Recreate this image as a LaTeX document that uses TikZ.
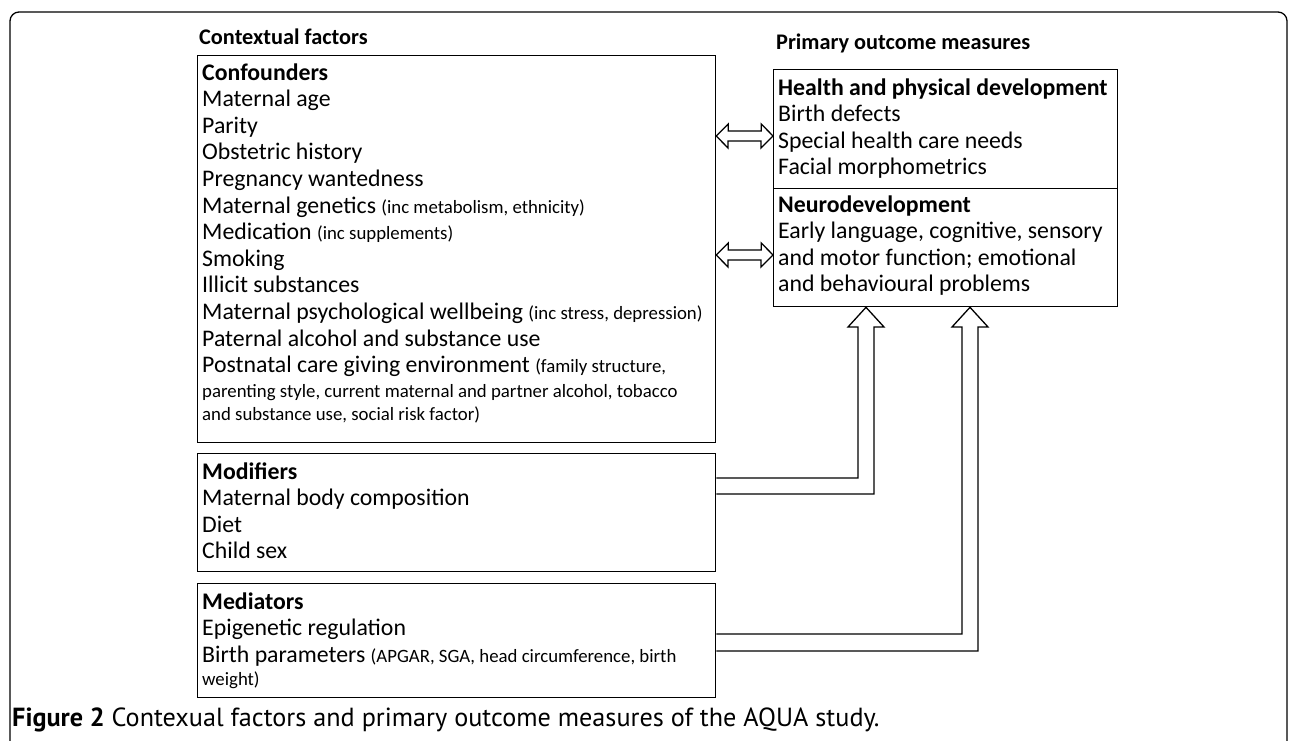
\documentclass[tikz,border=0pt]{standalone}
\usepackage{fontspec}
\setmainfont{Carlito}
\newfontfamily\capfont{PT Sans}
\newcommand{\sm}{\fontsize{18.8}{22}\selectfont}
\begin{document}
\begin{tikzpicture}[x=1pt,y=-1pt,
  box/.style={draw,line width=1.3pt,anchor=north west,inner sep=0pt},
  txt/.style={anchor=base west,inner sep=0pt,font=\fontsize{23.8}{26}\selectfont},
  stxt/.style={anchor=base west,inner sep=0pt,font=\sm},
  head/.style={anchor=base west,inner sep=0pt,font=\fontsize{22.3}{26}\selectfont\bfseries},
  hollow/.style={draw,line width=1.3pt,line join=miter},
  frame/.style={draw,line width=1.3pt,rounded corners=9pt}]
\useasboundingbox (0,0) rectangle (1290,740);
% outer frame
\draw[frame] (10,760) -- (10,12) -- (1287,12) -- (1287,760);
% headings
\node[head] (hctx) at (199,44) {Contextual factors};
\node[head] (hout) at (776,49) {Primary outcome measures};
% boxes
\node[box,minimum width=518pt,minimum height=387pt] (conf) at (197,55) {};
\node[box,minimum width=344pt,minimum height=119pt] (health) at (773,69) {};
\node[box,minimum width=344pt,minimum height=118pt] (neuro) at (773,188) {};
\node[box,minimum width=518pt,minimum height=118pt] (mod) at (197,453) {};
\node[box,minimum width=518pt,minimum height=114pt] (med) at (197,583) {};
% confounders text
\node[txt] (c0) at (202,80) {\textbf{Confounders}};
\node[txt] (c1) at (202,106.6) {Maternal age};
\node[txt] (c2) at (202,133.2) {Parity};
\node[txt] (c3) at (202,159.8) {Obstetric history};
\node[txt] (c4) at (202,186.4) {Pregnancy wantedness};
\node[txt] (c5) at (202,213) {Maternal genetics {\sm(inc metabolism, ethnicity)}};
\node[txt] (c6) at (202,239.6) {Medication {\sm(inc supplements)}};
\node[txt] (c7) at (202,266.2) {Smoking};
\node[txt] (c8) at (202,292.8) {Illicit substances};
\node[txt] (c9) at (202,319.4) {Maternal psychological wellbeing {\sm(inc stress, depression)}};
\node[txt] (c10) at (202,346) {Paternal alcohol and substance use};
\node[txt] (c11) at (202,372.6) {Postnatal care giving environment {\sm(family structure,}};
\node[stxt] (c12) at (202,397) {parenting style, current maternal and partner\ alcohol, tobacco};
\node[stxt] (c13) at (202,420) {and substance use, social risk factor)};
% health text
\node[txt] (h0) at (778,95) {\textbf{Health and physical development}};
\node[txt] (h1) at (778,121.5) {Birth defects};
\node[txt] (h2) at (778,148) {Special health care needs};
\node[txt] (h3) at (778,174.5) {Facial morphometrics};
% neuro text
\node[txt] (n0) at (778,212) {\textbf{Neurodevelopment}};
\node[txt] (n1) at (778,238.5) {Early language, cognitive, sensory};
\node[txt] (n2) at (778,265) {and motor function; emotional};
\node[txt] (n3) at (778,291.5) {and behavioural problems};
% modifiers text
\node[txt] (m0) at (202,479) {\textbf{Modifiers}};
\node[txt] (m1) at (202,505.5) {Maternal body composition};
\node[txt] (m2) at (202,532) {Diet};
\node[txt] (m3) at (202,558.5) {Child sex};
% mediators text
\node[txt] (d0) at (202,609) {\textbf{Mediators}};
\node[txt] (d1) at (202,635.5) {Epigenetic regulation};
\node[txt] (d2) at (202,662) {Birth parameters {\sm(APGAR, SGA, head circumference, birth}};
\node[stxt] (d3) at (202,685) {weight)};
% caption
\node[anchor=base west,inner sep=0pt,font=\capfont\fontsize{26.2}{30}\selectfont] (cap) at (12,726) {\textbf{Figure 2} Contexual factors and primary outcome measures of the AQUA study.};
% double arrows
\draw[hollow] (conf.east |- 0,136) -- ++(12,-12) -- ++(0,7) -- ++(33,0) -- ++(0,-7)
  -- (health.west |- 0,136) -- ++(-12,12) -- ++(0,-7) -- ++(-33,0) -- ++(0,7) -- cycle;
\draw[hollow] (conf.east |- 0,255) -- ++(12,-12) -- ++(0,7) -- ++(33,0) -- ++(0,-7)
  -- (neuro.west |- 0,255) -- ++(-12,12) -- ++(0,-7) -- ++(-33,0) -- ++(0,7) -- cycle;
% hollow arrows up
\draw[hollow] (mod.east |- 0,478) -- (858,478) -- (858,327) -- (848,327)
  -- (neuro.south -| 866,0) -- (884,327) -- (874,327) -- (874,494) -- (mod.east |- 0,494);
\draw[hollow] (med.east |- 0,634) -- (962,634) -- (962,327) -- (952,327)
  -- (neuro.south -| 970,0) -- (988,327) -- (978,327) -- (978,651) -- (med.east |- 0,651);
\end{tikzpicture}
\end{document}
